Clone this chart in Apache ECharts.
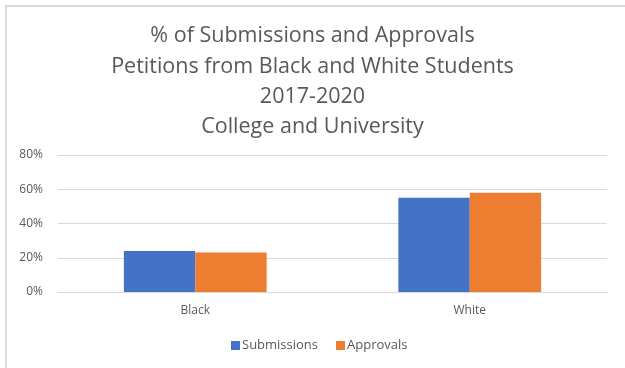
<!DOCTYPE html>
<html>
<head>
<meta charset="utf-8">
<script src="https://cdn.jsdelivr.net/npm/echarts@6/dist/echarts.min.js"></script>
<style>
  html, body { margin: 0; padding: 0; background: #fff; }
  #frame { position: absolute; left: 5px; top: 5px; width: 620px; height: 363px;
           border-left: 2px solid #d9d9d9; border-top: 2px solid #d9d9d9; }
  #chart { position: absolute; left: 0; top: 0; width: 625px; height: 368px; }
</style>
</head>
<body>
<div id="frame"></div>
<div id="chart"></div>
<script>
  var categories = ['Black', 'White']
  var submissions = [24, 55]
  var approvals = [23, 58]
  var yTicks = [0, 20, 40, 60, 80]
  var titleLines = ['% of Submissions and Approvals', 'Petitions from Black and White Students', '2017-2020', 'College and University']

  var chart = echarts.init(document.getElementById('chart'))
  var textColor = '#595959'
  var font = 'Open Sans'

  var options = {
    animation: false,
    color: ['#4472c4', '#ed7d31'],
    title: {
      text: titleLines.join('\n'),
      left: 'center',
      top: 16,
      textStyle: {
        fontFamily: font,
        fontWeight: 'normal',
        fontSize: 21.5,
        color: textColor,
        lineHeight: 30.3
      }
    },
    legend: {
      bottom: 11,
      left: 226,
      itemWidth: 9,
      itemHeight: 9,
      itemGap: 18,
      icon: 'rect',
      textStyle: { fontFamily: font, fontSize: 13, color: textColor, padding: [0, 0, 0, -3] },
      data: ['Submissions', 'Approvals']
    },
    grid: {
      left: 58,
      right: 18,
      top: 155,
      bottom: 76
    },
    xAxis: {
      type: 'category',
      data: categories,
      axisTick: { show: false },
      axisLine: { lineStyle: { color: '#d9d9d9', width: 1 } },
      axisLabel: { fontFamily: font, fontSize: 12, color: textColor, margin: 13 }
    },
    yAxis: {
      type: 'value',
      min: yTicks[0],
      max: yTicks[yTicks.length - 1],
      interval: 20,
      axisLine: { show: false },
      axisTick: { show: false },
      splitLine: { lineStyle: { color: '#d9d9d9', width: 1 } },
      axisLabel: {
        fontFamily: font,
        fontSize: 12,
        color: textColor,
        margin: 15,
        formatter: '{value}%'
      }
    },
    series: [
      { name: 'Submissions', type: 'bar', data: submissions, barWidth: '26%', barGap: '0%' },
      { name: 'Approvals', type: 'bar', data: approvals, barWidth: '26%', barGap: '0%' }
    ]
  }

  chart.setOption(options)
  window.addEventListener('resize', function () { chart.resize() })
</script>
</body>
</html>
